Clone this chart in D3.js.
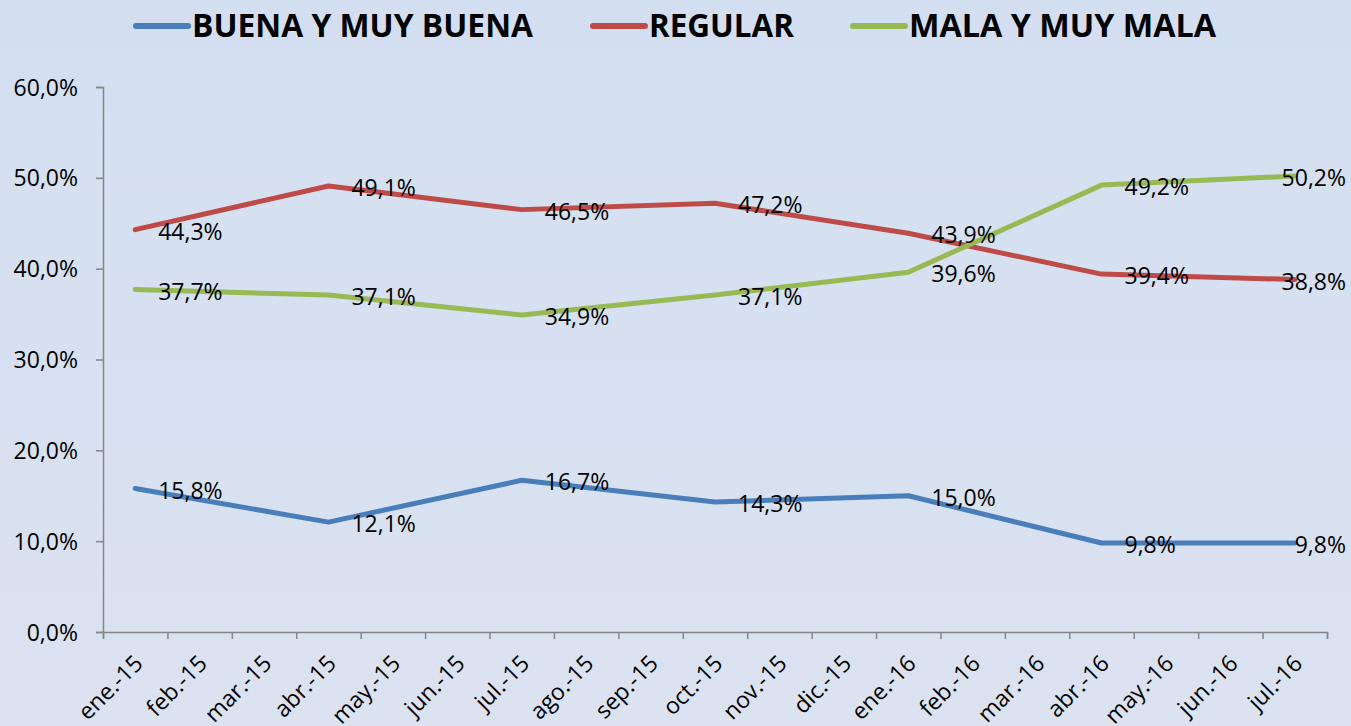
<!DOCTYPE html>
<html>
<head>
<meta charset="utf-8" />
<title>Opinion</title>
<script src="https://cdn.jsdelivr.net/npm/d3@7"></script>
<style>
  body { margin: 0; overflow: hidden; }
  text { font-family: "Open Sans", sans-serif; fill: #000; }
</style>
</head>
<body>
<div id="chart"></div>
<script>
// categories (monthly axis) and the months that carry a value
var months = ["ene.-15", "feb.-15", "mar.-15", "abr.-15", "may.-15", "jun.-15", "jul.-15", "ago.-15", "sep.-15",
  "oct.-15", "nov.-15", "dic.-15", "ene.-16", "feb.-16", "mar.-16", "abr.-16", "may.-16", "jun.-16", "jul.-16"];
var surveyMonths = ["ene.-15", "abr.-15", "jul.-15", "oct.-15", "ene.-16", "abr.-16", "jul.-16"];

var buena = [15.8, 12.1, 16.7, 14.3, 15.0, 9.8, 9.8];
var regular = [44.3, 49.1, 46.5, 47.2, 43.9, 39.4, 38.8];
var mala = [37.7, 37.1, 34.9, 37.1, 39.6, 49.2, 50.2];

var seriesNames = ["BUENA Y MUY BUENA", "REGULAR", "MALA Y MUY MALA"];
var seriesColors = ["#4a7ebb", "#be4b48", "#98b954"];
var yTicks = [0, 10, 20, 30, 40, 50, 60];

var width = 1351;
var height = 726;

var svg = d3.select("#chart").append("svg").attr("width", width).attr("height", height);

var grad = svg.append("defs").append("linearGradient").attr("id", "bg")
  .attr("x1", 0).attr("y1", 0).attr("x2", 0).attr("y2", 1);
grad.append("stop").attr("offset", "0%").attr("stop-color", "#d3dff1");
grad.append("stop").attr("offset", "100%").attr("stop-color", "#dbe2f0");
svg.append("rect").attr("width", width).attr("height", height).attr("fill", "url(#bg)");

var plotLeft = 103, plotRight = 1327, plotTop = 87, plotBottom = 632;

var x = d3.scaleBand().domain(months).range([plotLeft, plotRight]).padding(0);
var xEdge = d3.scaleLinear().domain([0, months.length]).range([plotLeft, plotRight]);
var y = d3.scaleLinear().domain([0, 60]).range([plotBottom, plotTop]);

var fmt = function(v) { return d3.format(".1f")(v).replace(".", ",") + "%"; };

// y axis
var yAxis = svg.append("g").attr("transform", "translate(" + plotLeft + ",0)")
  .call(d3.axisLeft(y).tickValues(yTicks).tickSize(7).tickPadding(18).tickFormat(fmt));
yAxis.selectAll("text").style("font-size", "23px").attr("dy", "0.35em");

// x axis: ticks at category edges
svg.append("g").attr("transform", "translate(0," + plotBottom + ")")
  .call(d3.axisBottom(xEdge).tickValues(d3.range(months.length + 1)).tickSize(7).tickFormat(""));

var xLabels = svg.append("g").attr("transform", "translate(0," + plotBottom + ")")
  .call(d3.axisBottom(x).tickSize(0).tickPadding(0));
xLabels.select(".domain").remove();
xLabels.selectAll("text")
  .style("font-size", "23px")
  .attr("text-anchor", "end")
  .attr("y", 0)
  .attr("dy", 0)
  .attr("transform", "translate(9,33) rotate(-45)");

svg.selectAll(".domain, .tick line").attr("stroke", "#868686").attr("stroke-width", 1.5);

// lines
var allSeries = [buena, regular, mala];
var line = d3.line()
  .x(function(d) { return x(d.m) + x.bandwidth() / 2; })
  .y(function(d) { return y(d.v); });

allSeries.forEach(function(vals, si) {
  var pts = vals.map(function(v, i) { return { m: surveyMonths[i], v: v }; });
  svg.append("path").datum(pts)
    .attr("d", line)
    .attr("fill", "none")
    .attr("stroke", seriesColors[si])
    .attr("stroke-width", 5)
    .attr("stroke-linejoin", "round")
    .attr("stroke-linecap", "round");
});

// data labels (to the right of each point, kept inside the chart)
allSeries.forEach(function(vals, si) {
  vals.forEach(function(v, i) {
    var px = x(surveyMonths[i]) + x.bandwidth() / 2;
    var t = svg.append("text")
      .attr("x", px + 23)
      .attr("y", y(v) + 2)
      .attr("dy", "0.35em")
      .style("font-size", "23px")
      .text(fmt(v));
    var w = t.node().getComputedTextLength();
    if (px + 23 + w > width - 5) t.attr("x", width - 5 - w);
  });
});

// legend
var legendX = [133, 590, 850];
var legendW = [341, 145, 307];
seriesNames.forEach(function(name, i) {
  var g = svg.append("g").attr("transform", "translate(" + legendX[i] + ",26)");
  g.append("line").attr("x1", 3).attr("x2", 55).attr("y1", 0).attr("y2", 0)
    .attr("stroke", seriesColors[i]).attr("stroke-width", 6).attr("stroke-linecap", "round");
  g.append("text").attr("x", 59).attr("y", 11)
    .style("font-size", "33px").style("font-weight", "bold")
    .attr("textLength", legendW[i]).attr("lengthAdjust", "spacingAndGlyphs")
    .text(name);
});
</script>
</body>
</html>
